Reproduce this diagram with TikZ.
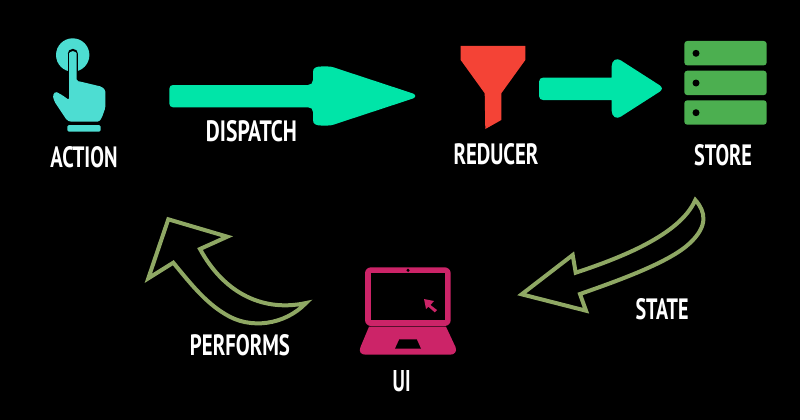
\documentclass[tikz,border=0pt]{standalone}
\usepackage{fontspec}
\usepackage{graphicx}
\setmainfont{PT Sans}
\definecolor{touch}{HTML}{4DDDD2}
\definecolor{mint}{HTML}{00E5A8}
\definecolor{funnel}{HTML}{F44336}
\definecolor{rack}{HTML}{4CAF50}
\definecolor{laptop}{HTML}{CC2468}
\definecolor{moss}{HTML}{8FA864}
% caption set to a fixed width and cap height
\newcommand{\capt}[2]{\resizebox{#1pt}{21pt}{\bfseries #2}}
\tikzset{
  caption node/.style={text=white,inner sep=0pt,anchor=center},
  solid arrow/.style={fill=mint},
  outline arrow/.style={draw=moss,line width=4pt,line join=miter,miter limit=10},
}
\begin{document}
\begin{tikzpicture}[x=1pt,y=-1pt]
\fill[black,use as bounding box] (0,0) rectangle (800,420);

% pointing hand
\fill[touch] (72.7,55) circle (16.7);
\draw[black,line width=2.5pt,line cap=round] (69,54) -- (69,85);
\draw[black,line width=2.5pt,line cap=round] (76.7,54) -- (76.7,80);
\draw[black,line width=2.5pt] (69,54) arc[start angle=180,end angle=0,x radius=3.85,y radius=-3.85];
\fill[touch,rounded corners=1.5pt] (69,55) arc[start angle=180,end angle=0,x radius=3.85,y radius=-3.85]
  -- (76.7,81) -- (80,81.5) -- (101.7,86.7) -- (105.3,90) -- (105.3,108) -- (101.7,118) -- (99,121.7)
  -- (70,121.7) -- (66.7,120) -- (54.5,101.7) -- (52.7,95.5) -- (55.5,91.5) -- (62,95) -- (69,100) -- cycle;
\fill[touch,rounded corners=1.5pt] (67.3,125) -- (100.7,125) -- (100.7,131.7) -- (67.3,131.7) -- cycle;
\node[caption node] (action) at (84,157) {\capt{67}{ACTION}};

% dispatch arrow
\fill[solid arrow] (169.3,89) .. controls (169.3,86) and (171,85) .. (173,85) -- (308,85)
  .. controls (311,85) and (313,83) .. (313,80) -- (313,72)
  .. controls (313,68) and (316,66.5) .. (321,66.5) -- (328,66.5)
  .. controls (330,66.5) and (332,66.8) .. (334,67.5) -- (413,93.5)
  .. controls (416,95) and (416,97) .. (413,98.5) -- (334,124.5)
  .. controls (332,125.2) and (330,125.5) .. (328,125.5) -- (321,125.5)
  .. controls (316,125.5) and (313,124) .. (313,120) -- (313,112)
  .. controls (313,109) and (311,107.3) .. (308,107.3) -- (173,107.3)
  .. controls (171,107.3) and (169.3,106) .. (169.3,103.5) -- cycle;
\node[caption node] (dispatch) at (251.5,131) {\capt{91}{DISPATCH}};

% funnel
\fill[funnel] (460.7,46) -- (525.3,46) -- (525.3,60) -- (501.3,93.3) -- (501.3,120) -- (485.3,129) -- (484.7,93.3) -- (460.7,60) -- cycle;
\node[caption node] (reducer) at (496,154.5) {\capt{85}{REDUCER}};

% short arrow
\fill[solid arrow] (539,81.7) .. controls (539,79) and (541,77.7) .. (543,77.7) -- (611.7,77.7)
  -- (611.7,66) .. controls (611.7,60) and (617,57.5) .. (621,60.5) -- (660,85.5)
  .. controls (662.5,87.5) and (662.5,89.5) .. (660,91.5) -- (621,116.5)
  .. controls (617,119.5) and (611.7,117) .. (611.7,111) -- (611.7,100) -- (543,100)
  .. controls (541,100) and (539,98.7) .. (539,96) -- cycle;

% server rack
\foreach \top/\dot in {41/53.3,70.7/83,100.3/112.7}{
  \fill[rack,rounded corners=3pt] (684.3,\top) rectangle (766.7,\top+24.4);
  \fill[black] (696,\dot) circle (3.5);
}
\node[caption node] (store) at (723,155.5) {\capt{58}{STORE}};

% outlined arrow from the store to the laptop
\draw[outline arrow] (695.3,200) .. controls (706,212) and (708,226) .. (690,243)
  .. controls (670,262) and (620,280) .. (580,294) -- (586,310.7) -- (521.7,294.3) -- (572.7,255) -- (575.7,272.7)
  .. controls (620,258) and (680,235) .. (695.3,200) -- cycle;
\node[caption node] (state) at (662,309) {\capt{53}{STATE}};

% laptop
\fill[laptop,rounded corners=6pt] (365,267.3) rectangle (450.7,326);
\fill[black] (371.3,273.3) rectangle (445.3,320);
\fill[black] (408,270.3) circle (1.7);
\fill[laptop] (369,326.7) -- (446,326.7) -- (455.5,347) .. controls (457.5,352) and (454,354.7) .. (450,354.7)
  -- (366,354.7) .. controls (361,354.7) and (358.5,352) .. (360.5,347) -- cycle;
\fill[black] (399.3,339.3) -- (416.7,339.3) -- (421,348.7) -- (395,348.7) -- cycle;
\fill[laptop] (424,299) -- (434,301) -- (430.5,305) -- (437,310) -- (434.7,312.3) -- (428.3,306.7) -- (426,309) -- cycle;
\node[caption node] (ui) at (401.7,381) {\capt{18}{UI}};

% outlined arrow from the laptop to the action
\draw[outline arrow] (200,249) .. controls (225,295) and (265,312) .. (306,303)
  .. controls (285,325) and (250,330) .. (225,314) .. controls (205,302) and (190,283) .. (173.3,262.7)
  -- (148.3,278.3) -- (168.3,219.3) -- (227.3,236.7) -- cycle;
\node[caption node] (performs) at (240,345.5) {\capt{100}{PERFORMS}};
\end{tikzpicture}
\end{document}
